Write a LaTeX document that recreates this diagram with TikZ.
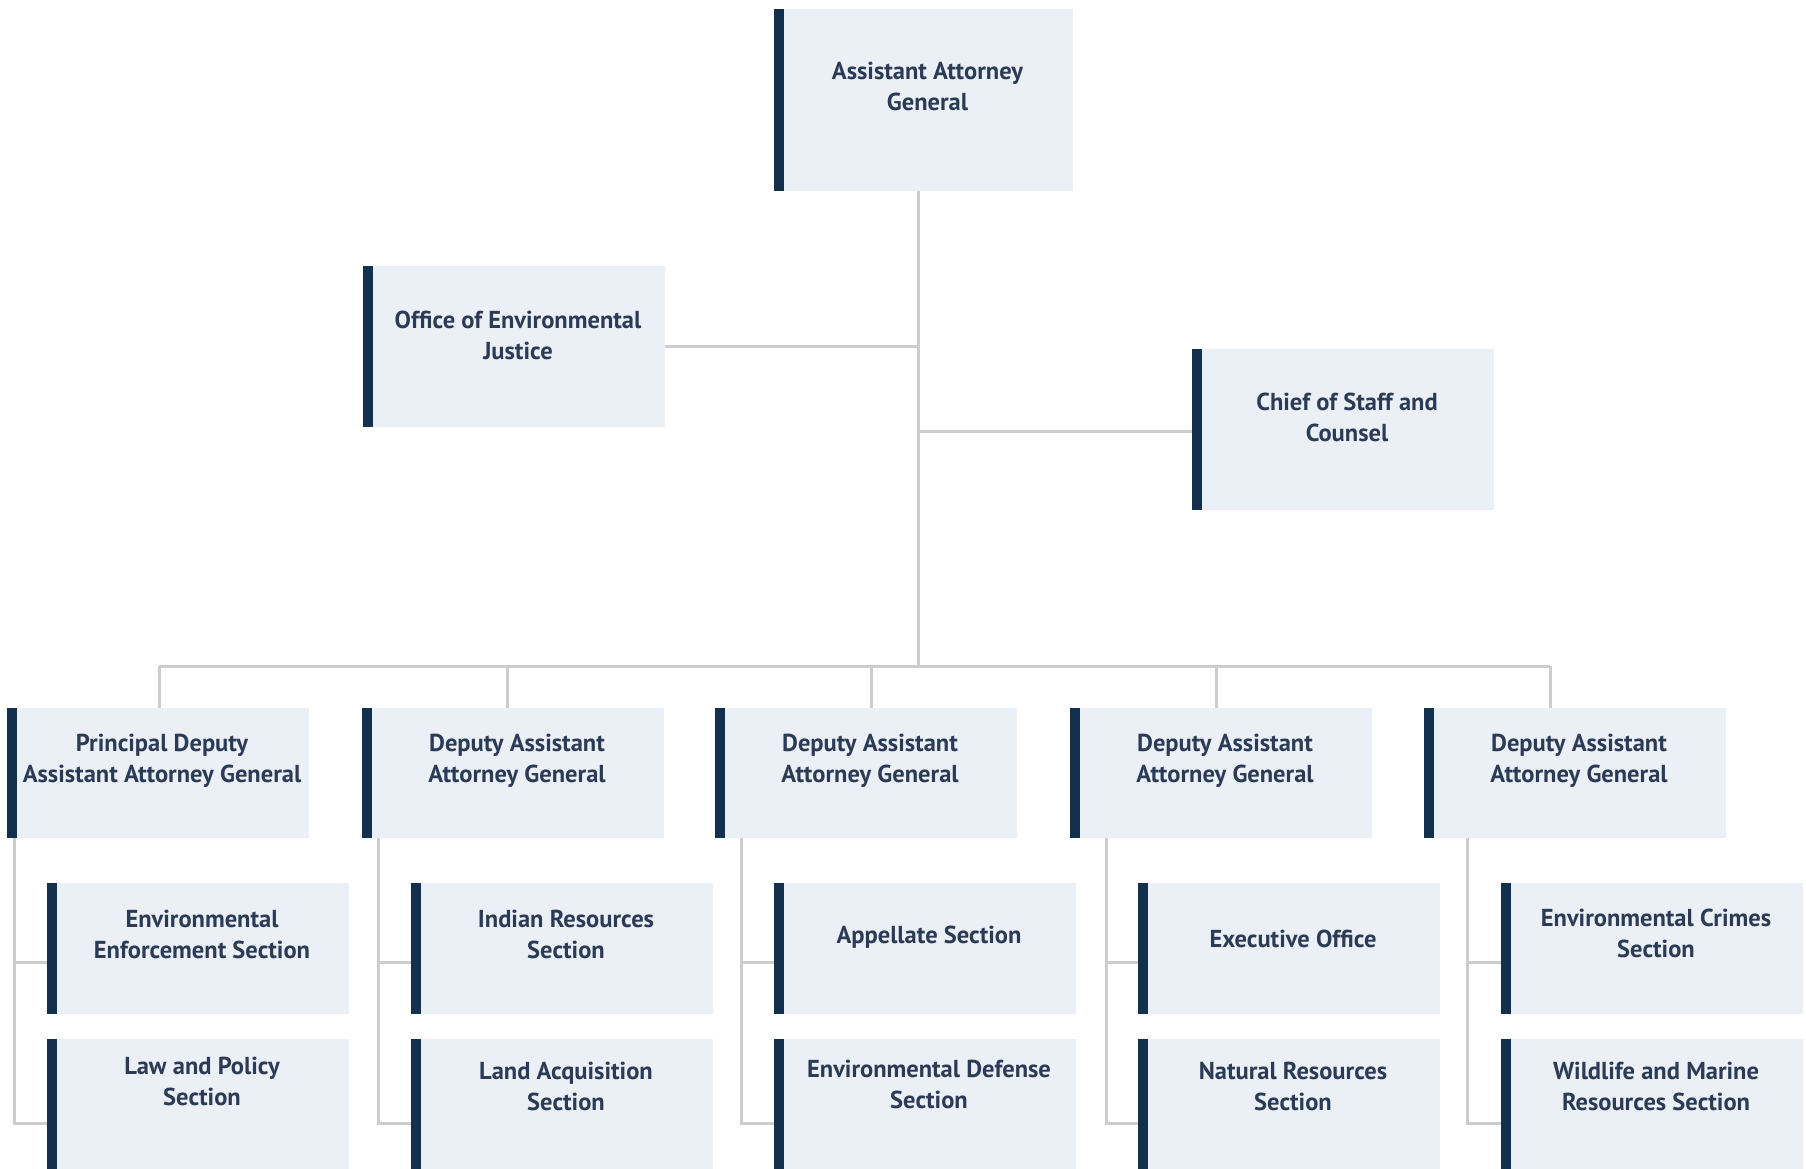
\documentclass[tikz,border=0pt]{standalone}
\usepackage{fontspec}
\setmainfont{PT Sans}
\definecolor{boxc}{HTML}{EBF0F7}
\definecolor{barc}{HTML}{13304F}
\definecolor{linec}{HTML}{CDCDCD}
\definecolor{txtc}{HTML}{2B3B55}
\tikzset{
  orgbox/.style={fill=boxc, inner sep=0pt, outer sep=0pt, minimum width=302pt, anchor=north west,
    path picture={\fill[barc] (path picture bounding box.north west) rectangle ([xshift=10pt]path picture bounding box.south west);}},
  lbl/.style={anchor=north, inner sep=0pt, align=center, text=txtc, xshift=4pt, font=\fontsize{24.5}{31}\selectfont\bfseries},
  conn/.style={draw=linec, line width=3pt}
}
\begin{document}
\begin{tikzpicture}[x=1pt,y=-1pt]
\clip (0,0) rectangle (1806,1168);
\fill[white] (0,0) rectangle (1806,1168);
% top level
\node[orgbox, minimum width=299pt, minimum height=182pt, label={[lbl,yshift=-53pt]north:{Assistant Attorney\\General}}] (top) at (774,9) {};
\node[orgbox, minimum height=161pt, label={[lbl,yshift=-45pt]north:{Office of Environmental\\Justice}}] (oej) at (363,266) {};
\node[orgbox, minimum height=161pt, label={[lbl,yshift=-44pt]north:{Chief of Staff and\\Counsel}}] (cos) at (1192,349) {};
% level 2
\node[orgbox, minimum height=130pt, label={[lbl,yshift=-26pt]north:{Principal Deputy\\Assistant Attorney General}}] (l1) at (7,708) {};
\node[orgbox, minimum height=130pt, label={[lbl,yshift=-26pt]north:{Deputy Assistant\\Attorney General}}] (l2) at (362,708) {};
\node[orgbox, minimum height=130pt, label={[lbl,yshift=-26pt]north:{Deputy Assistant\\Attorney General}}] (l3) at (715,708) {};
\node[orgbox, minimum height=130pt, label={[lbl,yshift=-26pt]north:{Deputy Assistant\\Attorney General}}] (l4) at (1070,708) {};
\node[orgbox, minimum height=130pt, label={[lbl,yshift=-26pt]north:{Deputy Assistant\\Attorney General}}] (l5) at (1424,708) {};
% sections row 1
\node[orgbox, minimum height=131pt, label={[lbl,yshift=-27pt]north:{Environmental\\Enforcement Section}}] (s11) at (47,883) {};
\node[orgbox, minimum height=131pt, label={[lbl,yshift=-27pt]north:{Indian Resources\\Section}}] (s21) at (411,883) {};
\node[orgbox, minimum height=131pt, label={[lbl,yshift=-43pt]north:{Appellate Section}}] (s31) at (774,883) {};
\node[orgbox, minimum height=131pt, label={[lbl,yshift=-47pt]north:{Executive Office}}] (s41) at (1138,883) {};
\node[orgbox, minimum height=131pt, label={[lbl,yshift=-26pt]north:{Environmental Crimes\\Section}}] (s51) at (1501,883) {};
% sections row 2
\node[orgbox, minimum height=150pt, label={[lbl,yshift=-18pt]north:{Law and Policy\\Section}}] (s12) at (47,1039) {};
\node[orgbox, minimum height=150pt, label={[lbl,yshift=-23pt]north:{Land Acquisition\\Section}}] (s22) at (411,1039) {};
\node[orgbox, minimum height=150pt, label={[lbl,yshift=-21pt]north:{Environmental Defense\\Section}}] (s32) at (774,1039) {};
\node[orgbox, minimum height=150pt, label={[lbl,yshift=-23pt]north:{Natural Resources\\Section}}] (s42) at (1138,1039) {};
\node[orgbox, minimum height=150pt, label={[lbl,yshift=-23pt]north:{Wildlife and Marine\\Resources Section}}] (s52) at (1501,1039) {};
% connectors: top part
\coordinate (bus) at (918,666);
\draw[conn] (top.south -| bus) -- (bus);
\draw[conn] (oej.east) -- (oej.east -| bus);
\draw[conn] ([yshift=-2pt]cos.west) -- ([yshift=-2pt]cos.west -| bus);
% bus and drops
\coordinate (b1) at (159,666);
\coordinate (b2) at (507,666);
\coordinate (b3) at (871,666);
\coordinate (b4) at (1216,666);
\coordinate (b5) at (1550,666);
\draw[conn] (b1) -- (b5);
\draw[conn] (b1) -- (b1 |- l1.north);
\draw[conn] (b2) -- (b2 |- l2.north);
\draw[conn] (b3) -- (b3 |- l3.north);
\draw[conn] (b4) -- (b4 |- l4.north);
\draw[conn] (b5) -- (b5 |- l5.north);
% spines
\foreach \c/\x in {1/14,2/378,3/741,4/1106,5/1467}{
  \coordinate (j\c1) at (\x,962);
  \coordinate (j\c2) at (\x,1123);
  \draw[conn] (l\c.south -| j\c1) -- (j\c2) -- (j\c2 -| s\c2.west);
  \draw[conn] (j\c1) -- (j\c1 -| s\c1.west);
}
\end{tikzpicture}
\end{document}
